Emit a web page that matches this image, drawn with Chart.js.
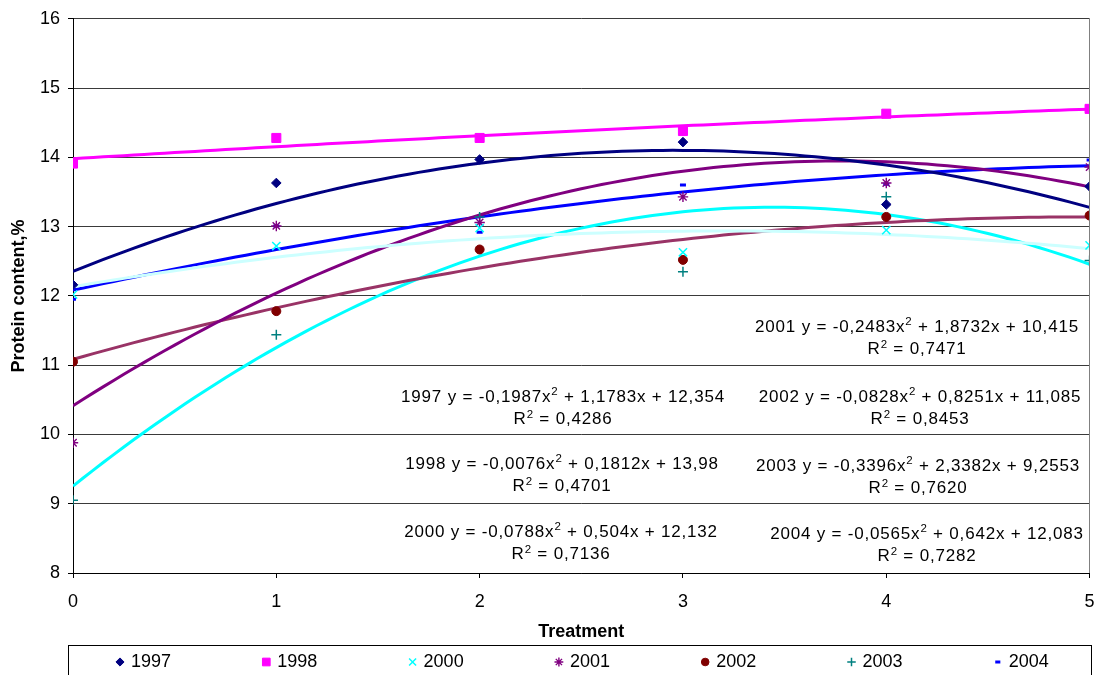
<!DOCTYPE html>
<html><head><meta charset="utf-8">
<script src="https://cdn.jsdelivr.net/npm/chart.js@4.4.1/dist/chart.umd.min.js"></script>
<style>html,body{margin:0;padding:0;background:#fff;overflow:hidden}#wrap{width:1097px;height:675px;position:relative}</style>
</head><body><div id="wrap"><canvas id="c"></canvas></div>
<script>
// ---- data ----
const treatments = [0, 1, 2, 3, 4, 5];
const xTicks = [0, 1, 2, 3, 4, 5];
const yTicks = [8, 9, 10, 11, 12, 13, 14, 15, 16];
const years = ['1997', '1998', '2000', '2001', '2002', '2003', '2004'];
const v1997 = [12.16, 13.63, 13.97, 14.22, 13.32, 13.58];
const v1998 = [13.91, 14.28, 14.28, 14.38, 14.63, 14.70];
const v2000 = [12.02, 12.72, 12.98, 12.63, 12.95, 12.73];
const v2001 = [9.88, 13.01, 13.06, 13.43, 13.63, 13.86];
const v2002 = [11.05, 11.78, 12.67, 12.52, 13.14, 13.16];
const v2003 = [9.05, 11.44, 13.14, 12.35, 13.43, 12.51];
const v2004 = [11.95, 13.01, 12.92, 13.60, 13.61, 13.96];
// printed trendline equations y = a x^2 + b x + c
const coefA = [-0.1987, -0.0076, -0.0788, -0.2483, -0.0828, -0.3396, -0.0565];
const coefB = [1.1783, 0.1812, 0.504, 1.8732, 0.8251, 2.3382, 0.642];
const coefC = [12.354, 13.98, 12.132, 10.415, 11.085, 9.2553, 12.083];
const eqHead = ['1997 y = -0,1987x', '1998 y = -0,0076x', '2000 y = -0,0788x', '2001 y = -0,2483x', '2002 y = -0,0828x', '2003 y = -0,3396x', '2004 y = -0,0565x'];
const eqTail = [' + 1,1783x + 12,354', ' + 0,1812x + 13,98', ' + 0,504x + 12,132', ' + 1,8732x + 10,415', ' + 0,8251x + 11,085', ' + 2,3382x + 9,2553', ' + 0,642x + 12,083'];
const r2Text = [' = 0,4286', ' = 0,4701', ' = 0,7136', ' = 0,7471', ' = 0,8453', ' = 0,7620', ' = 0,7282'];
const seriesValues = [v1997, v1998, v2000, v2001, v2002, v2003, v2004];

// ---- styles ----
const markerColors = ['#000080', '#FF00FF', '#00FFFF', '#800080', '#800000', '#008080', '#0000FF'];
const trendColors = ['#000080', '#FF00FF', '#CCFFFF', '#800080', '#993366', '#00FFFF', '#0000FF'];
const markerStyles = ['rectRot', 'rect', 'crossRot', 'star', 'circle', 'cross', 'line'];
const markerRadius = [4.8, 6.4, 5.8, 5.2, 4.5, 5, 3];
const markerBorder = [1, 1, 1.5, 1.4, 1, 1.5, 3];
// annotation layout (pixel centres)
const annX = [563, 562, 561, 917, 920, 918, 927];
const annY = [397, 464, 532, 327, 397, 466, 534];
const legendX = [120, 266.3, 412.6, 558.9, 705.2, 851.5, 997.8];

const FONT = '"Liberation Sans", Arial, Helvetica, sans-serif';
Chart.defaults.font.family = FONT;
Chart.defaults.color = '#000';

const datasets = [];
years.forEach((yr, i) => {
  datasets.push({
    type: 'scatter', label: yr, order: 0,
    data: treatments.map((x, k) => ({x: x, y: seriesValues[i][k]})),
    pointStyle: markerStyles[i], pointRadius: markerRadius[i], pointBorderWidth: markerBorder[i],
    pointBackgroundColor: markerColors[i], pointBorderColor: markerColors[i], showLine: false
  });
});
years.forEach((yr, i) => {
  const pts = [];
  for (let k = 0; k <= 100; k++) {
    const x = k * 0.05;
    pts.push({x: x, y: coefA[i] * x * x + coefB[i] * x + coefC[i]});
  }
  datasets.push({
    type: 'line', label: 'trend ' + yr, order: 1, data: pts,
    borderColor: trendColors[i], borderWidth: 3, pointRadius: 0, tension: 0, fill: false
  });
});

function drawEq(ctx, cx, cy, head, sup, tail, font, supFont) {
  ctx.font = font; const w1 = ctx.measureText(head).width; const w3 = ctx.measureText(tail).width;
  ctx.font = supFont; const w2 = ctx.measureText(sup).width;
  let x = cx - (w1 + w2 + w3) / 2;
  ctx.font = font; ctx.fillText(head, x, cy); x += w1;
  ctx.font = supFont; ctx.fillText(sup, x, cy - 5); x += w2;
  ctx.font = font; ctx.fillText(tail, x, cy);
}

const extras = {
  id: 'extras',
  afterDraw(chart) {
    const ctx = chart.ctx, a = chart.chartArea;
    ctx.save();
    ctx.strokeStyle = '#808080'; ctx.lineWidth = 1;
    ctx.beginPath();
    ctx.moveTo(Math.round(a.right) - 0.5, a.top); ctx.lineTo(Math.round(a.right) - 0.5, a.bottom);
    ctx.stroke();
    // trendline equations
    ctx.fillStyle = '#000'; ctx.textAlign = 'left'; ctx.textBaseline = 'middle';
    try { ctx.letterSpacing = '0.8px'; } catch (e) {}
    const f = '17px ' + FONT, sf = '11.5px ' + FONT;
    years.forEach((yr, i) => {
      drawEq(ctx, annX[i], annY[i], eqHead[i], '2', eqTail[i], f, sf);
      drawEq(ctx, annX[i], annY[i] + 22.5, 'R', '2', r2Text[i], f, sf);
    });
    try { ctx.letterSpacing = '0px'; } catch (e) {}
    // legend
    ctx.strokeStyle = '#000'; ctx.lineWidth = 1;
    ctx.strokeRect(68.5, 645.5, 1023, 40);
    ctx.font = '18px ' + FONT;
    years.forEach((yr, i) => {
      ctx.fillStyle = markerColors[i]; ctx.strokeStyle = markerColors[i];
      ctx.lineWidth = markerBorder[i];
      Chart.helpers.drawPoint(ctx, {pointStyle: markerStyles[i], rotation: 0,
        radius: markerRadius[i] * 0.85, borderWidth: markerBorder[i]}, legendX[i], 662);
      ctx.fillStyle = '#000';
      ctx.fillText(yr, legendX[i] + 11, 662);
    });
    ctx.restore();
  }
};

new Chart(document.getElementById('c'), {
  data: {datasets: datasets},
  options: {
    responsive: true, maintainAspectRatio: false, animation: false, events: [],
    layout: {padding: {top: 17, right: 7, left: 0, bottom: 0}},
    plugins: {legend: {display: false}, tooltip: {enabled: false}},
    scales: {
      x: {
        type: 'linear', min: 0, max: 5,
        afterBuildTicks: s => { s.ticks = xTicks.map(v => ({value: v})); },
        afterFit: s => { s.height = 102; s.paddingRight = 5; s.paddingLeft = 5; },
        ticks: {font: {size: 18}, padding: 13, color: '#000'},
        grid: {drawOnChartArea: false, drawTicks: true, tickLength: 5, color: '#000'},
        border: {display: true, color: '#000', width: 1},
        title: {display: true, text: 'Treatment', font: {size: 18, weight: 'bold'}, color: '#000', padding: {top: 0, bottom: 32}}
      },
      y: {
        type: 'linear', min: 8, max: 16,
        afterBuildTicks: s => { s.ticks = yTicks.map(v => ({value: v})); },
        afterFit: s => { s.width = 73; },
        ticks: {font: {size: 18}, padding: 8, color: '#000'},
        grid: {color: '#3a3a3a', lineWidth: 1, tickLength: 5, tickColor: '#000'},
        border: {display: true, color: '#000', width: 1},
        title: {display: true, text: 'Protein content,%', font: {size: 18, weight: 'bold'}, color: '#000', padding: {top: 8, bottom: 0}}
      }
    }
  },
  plugins: [extras]
});
</script></body></html>
